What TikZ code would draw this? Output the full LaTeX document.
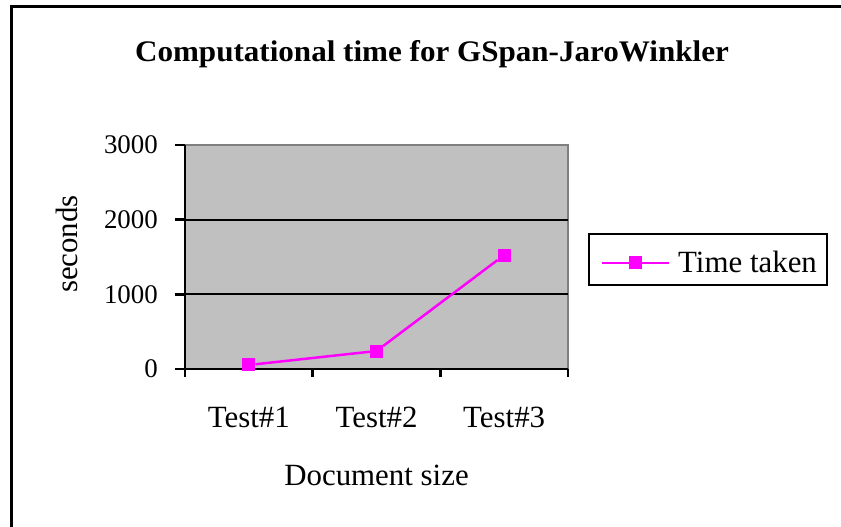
\documentclass[tikz,border=0pt]{standalone}
\usepackage{fontspec}
\setmainfont{Liberation Serif}
\usetikzlibrary{positioning}
\definecolor{plotgray}{RGB}{192,192,192}
\definecolor{framegray}{RGB}{128,128,128}
\definecolor{seriesmagenta}{RGB}{255,0,255}
\begin{document}
\begin{tikzpicture}[x=1bp, y=-1bp,
    ticklabel/.style={font=\fontsize{27}{30}\selectfont, inner sep=0},
    catlabel/.style={font=\fontsize{31}{34}\selectfont, inner sep=0},
    markbox/.style={fill=seriesmagenta, minimum size=13bp, inner sep=0},
    series/.style={seriesmagenta, line width=2.5bp}]
    \useasboundingbox (0,0) rectangle (841,527);
    \draw[line width=3bp] (11,527) -- (11,7) -- (841,7);

    \node[font=\bfseries\fontsize{30}{33}\selectfont, anchor=base, xscale=1.04] (title) at (432,62) {Computational time for GSpan-JaroWinkler};

    \begin{scope}[shift={(185,369)}, x=127.67bp, y=0.074667bp]
        \fill[plotgray] (0,0) rectangle (3,3000);
        \draw[framegray, line width=2bp] (0,3000) -- (3,3000) -- (3,0);
        \foreach \v in {1000,2000}
            \draw[line width=2bp] (0,\v) -- (3,\v);
        \draw[line width=2.5bp] (0,3000) -- (0,0) -- (3,0);
        \foreach \v in {0,1000,2000,3000} {
            \draw[line width=2.5bp] (0,\v) -- ++(-10bp,0);
            \node[ticklabel, anchor=east] (y\v) at ([xshift=-27bp]0,\v) {\v};
        }
        \foreach \i in {0,...,3}
            \draw[line width=2.5bp] (\i,0) -- ++(0,-8bp);
        \foreach \i/\x in {1/0.5,2/1.5,3/2.5}
            \node[catlabel, anchor=base] (test\i) at ([yshift=-58bp]\x,0) {Test\#\i};

        \node[markbox] (p1) at (0.5,54) {};
        \node[markbox] (p2) at (1.5,241) {};
        \node[markbox] (p3) at (2.5,1526) {};
        \draw[series] (p1) -- (p2) -- (p3);
    \end{scope}

    \node[catlabel, anchor=base] (xlabel) at (376.5,485) {Document size};
    \node[catlabel, rotate=90] (ylabel) at (67,244) {seconds};

    \node[draw, line width=2.5bp, minimum width=238bp, minimum height=51bp] (legend) at (708,259.5) {};
    \coordinate (lstart) at (602,263);
    \coordinate (lend) at (669,263);
    \draw[series] (lstart) -- (lend);
    \node[markbox] (lmark) at (635.5,263) {};
    \node[catlabel, anchor=base west] (ltext) at (678,273) {Time taken};
\end{tikzpicture}
\end{document}
